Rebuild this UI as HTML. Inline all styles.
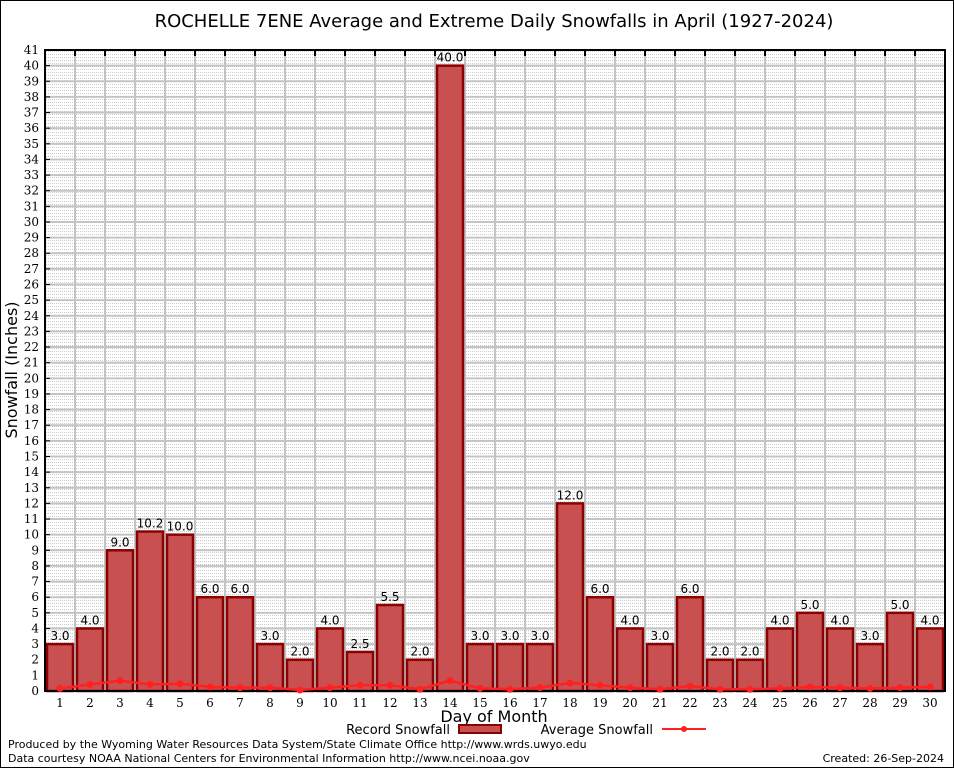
<!DOCTYPE html>
<html><head><meta charset="utf-8"><style>
body{margin:0;background:#fff;}
svg{display:block;font-family:"DejaVu Sans","Liberation Sans",sans-serif;}
.tk{font-family:"DejaVu Serif","Liberation Serif",serif;font-size:12px;}
</style></head><body>
<svg id="c" width="954" height="768">
<defs>
<pattern id="bg" width="4" height="3" patternUnits="userSpaceOnUse"><rect width="4" height="3" fill="#fff"/><rect x="0" y="0" width="1" height="1" fill="#c8c8c8"/><rect x="2" y="0" width="1" height="1" fill="#d0d0d0"/></pattern>
</defs>
<rect x="0.5" y="0.5" width="953" height="767" fill="none" stroke="#000"/>
<text x="494" y="27" text-anchor="middle" font-size="18">ROCHELLE 7ENE Average and Extreme Daily Snowfalls in April (1927-2024)</text>
<g id="plot"></g>
<text transform="translate(17,370) rotate(-90)" text-anchor="middle" font-size="16">Snowfall (Inches)</text>
<text x="494" y="722" text-anchor="middle" font-size="16">Day of Month</text>
<g><text x="450" y="734" text-anchor="end" font-size="13">Record Snowfall</text><rect x="459" y="725" width="42" height="8" fill="#c85050" stroke="#8b0000" stroke-width="2"/></g>
<g><text x="653" y="734" text-anchor="end" font-size="13">Average Snowfall</text><line x1="662" y1="729" x2="706" y2="729" stroke="#ff2020" stroke-width="2"/><circle cx="684" cy="729" r="3" fill="#ff2020"/></g>
<text x="8" y="748" font-size="11">Produced by the Wyoming Water Resources Data System/State Climate Office http://www.wrds.uwyo.edu</text>
<text x="8" y="762" font-size="11">Data courtesy NOAA National Centers for Environmental Information http://www.ncei.noaa.gov</text>
<text x="944" y="762" text-anchor="end" font-size="11">Created:  26-Sep-2024</text>
</svg>
<script>
const days=[1,2,3,4,5,6,7,8,9,10,11,12,13,14,15,16,17,18,19,20,21,22,23,24,25,26,27,28,29,30];
const records=[3.0,4.0,9.0,10.2,10.0,6.0,6.0,3.0,2.0,4.0,2.5,5.5,2.0,40.0,3.0,3.0,3.0,12.0,6.0,4.0,3.0,6.0,2.0,2.0,4.0,5.0,4.0,3.0,5.0,4.0];
const averages=[0.1,0.35,0.6,0.35,0.4,0.2,0.15,0.15,0.0,0.15,0.3,0.3,0.05,0.6,0.1,0.05,0.15,0.45,0.3,0.15,0.05,0.25,0.05,0.05,0.1,0.2,0.15,0.1,0.15,0.2];
const yTicks=[0,1,2,3,4,5,6,7,8,9,10,11,12,13,14,15,16,17,18,19,20,21,22,23,24,25,26,27,28,29,30,31,32,33,34,35,36,37,38,39,40,41];
const NS='http://www.w3.org/2000/svg';
const L=45,R=945,B=691,T=50,yMax=41;
const y=v=>B-(v/yMax)*(B-T);
const slot=(R-L)/days.length;
const x=d=>L+slot*(d-0.5);
const g=document.getElementById('plot');
function mk(t,a){const e=document.createElementNS(NS,t);for(const k in a)e.setAttribute(k,a[k]);g.appendChild(e);return e;}
const bg=mk('rect',{x:L,y:T,width:R-L,height:B-T,fill:'url(#bg)'});


yTicks.forEach(v=>{
 const ln=mk('line',{x1:L,x2:R,y1:y(v),y2:y(v),stroke:'#c4c4c4','stroke-width':2});
 
 
 const t=mk('text',{x:L-6,y:y(v)+4,'text-anchor':'end',class:'tk'});
 t.textContent=v;
 
 
 mk('line',{x1:L,x2:L+5,y1:y(v),y2:y(v),stroke:'#000','stroke-width':1});
});
days.forEach((d,i)=>{
 const xb=L+slot*i;
 if(i>0){const vl=mk('line',{x1:xb,x2:xb,y1:T,y2:B,stroke:'#c4c4c4','stroke-width':2});
 
 
 mk('line',{x1:xb,x2:xb,y1:T,y2:T+6,stroke:'#000','stroke-width':2});}
});
days.forEach((d,i)=>{
 const v=records[i];
 const r=mk('rect',{x:x(d)-13,y:y(v),width:26,height:B-y(v),fill:'#c85050',stroke:'#8b0000','stroke-width':2.5});
 
 
 const lb=mk('text',{x:x(d),y:y(v)-4,'text-anchor':'middle','font-size':12});
 lb.textContent=v.toFixed(1);
 
 
 const t=mk('text',{x:x(d),y:B+16,'text-anchor':'middle',class:'tk'});
 t.textContent=d;
 
 
});
const ax=mk('rect',{x:L,y:T,width:R-L,height:B-T,fill:'none',stroke:'#000','stroke-width':2});


const pts=days.map((d,i)=>x(d)+','+(y(averages[i])-1)).join(' ');
const pl=mk('polyline',{points:pts,fill:'none',stroke:'#ff2020','stroke-width':2.5});


days.forEach((d,i)=>{
 const c=mk('circle',{cx:x(d),cy:y(averages[i])-1,r:3.5,fill:'#ff2020'});
 
 
});
</script>
</body></html>
